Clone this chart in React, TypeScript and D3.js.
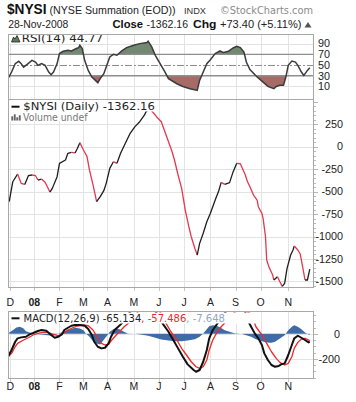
import React from 'react';
import * as d3 from 'd3';

const monthLabels = ['D', '08', 'F', 'M', 'A', 'M', 'J', 'J', 'A', 'S', 'O', 'N'];
const monthStartDay = [0, 20, 41, 61, 81, 103, 124, 145, 167, 188, 209, 232];
const yearLabel = '08';

const nysiDay = [-1,2,6,9,12,15,18,21,23,26,29,33,35,39,41,46,48,51,54,56,58,61,64,66,69,72,75,78,80,83,86,89,92,96,100,104,108,112,113,116,119,122,126,129,132,135,137,140,143,146,149,151,154,156,158,161,164,167,171,174,176,179,183,186,189,192,196,198,200,203,206,207,210,211,213,214,216,219,220,223,225,227,229,231,234,236,237,240,242,244,246,248,250];
const nysiValue = [-612,-390,-305,-408,-420,-323,-315,-323,-371,-360,-395,-505,-464,-334,-185,-148,-74,-63,-70,-18,45,-37,-111,-259,-426,-612,-556,-490,-408,-241,-167,-185,-74,38,149,223,278,353,383,430,383,334,278,167,56,-56,-148,-315,-464,-705,-891,-1002,-1131,-1206,-1076,-964,-835,-742,-594,-490,-397,-420,-400,-278,-185,-190,-310,-390,-445,-538,-594,-668,-742,-798,-1002,-1262,-1343,-1429,-1484,-1447,-1503,-1555,-1521,-1354,-1206,-1150,-1106,-1150,-1195,-1336,-1484,-1484,-1362];

const rsiDay = [-2,1,4,7,9,11,14,18,21,23,26,29,32,34,36,39,41,44,48,51,55,57,58,60,62,65,68,71,73,75,78,80,83,86,89,93,97,103,108,114,115,118,121,125,129,132,139,144,150,156,158,161,164,167,171,175,178,182,186,189,192,195,197,200,206,211,215,220,222,225,228,230,232,235,238,240,243,245,248,250];
const rsiValue = [24.5,37,52.6,57,52.6,46,51.3,58.8,55.6,49.4,52.6,49.4,37,32,37,52.6,71.4,75.7,77.6,76.3,80.8,82.6,87,80.8,58.8,40,27.5,21.3,17,24.5,33.9,46.2,65,70,68.2,76.3,82.6,87,90,92,94.5,83.8,68.2,52.6,37,24.5,15,10,5.7,2.5,21.3,37,52.6,60,71.4,76.3,73.3,75.7,81.9,85,82.6,74.4,55.6,41.4,27.5,18,10,5.7,10,12,12,27.5,49.4,57.5,55.6,49.4,37,30.7,40,44.77];

const macdDay = [-2,1,4,6,9,13,16,19,23,26,30,34,37,40,43,45,48,51,54,58,62,65,68,70,73,76,79,82,84,87,90,93,95,98,103,108,113,118,123,127,132,136,140,144,148,153,155,158,161,164,166,169,172,175,178,183,188,193,196,198,201,204,207,210,212,215,218,221,224,226,229,232,235,237,240,243,246,249,250];
const macdValue = [-184,-130,-64,-37,-29,-24,-5,6,22,30,24,-10,-32,-24,-5,30,48,64,70,70,64,38,-10,-64,-104,-117,-112,-77,-24,30,56,83,110,150,210,250,260,230,150,83,16,-50,-117,-184,-245,-290,-304,-290,-224,-130,-37,30,70,110,150,220,240,210,176,110,56,3,-37,-90,-157,-210,-250,-264,-258,-245,-237,-170,-90,-37,-16,-32,-50,-69,-65];

const signalDay = [-2,1,4,6,11,15,19,23,27,31,36,40,44,48,52,56,61,65,69,73,76,79,82,84,87,91,95,100,102,107,112,117,122,126,130,134,139,143,147,151,155,158,161,164,166,169,172,176,180,185,187,192,200,203,205,210,214,218,222,225,229,232,235,237,240,243,246,249,250];
const signalValue = [-184,-157,-104,-77,-50,-32,-10,3,11,11,-5,-16,3,30,48,62,70,64,30,-37,-77,-90,-85,-58,-24,16,56,96,123,180,220,230,200,163,83,16,-50,-117,-170,-224,-264,-277,-264,-210,-130,-50,3,56,96,136,171,210,163,110,56,-10,-77,-144,-197,-229,-250,-237,-184,-117,-69,-42,-37,-50,-57];

const histDay = [-1,2,5,8,11,13,16,20,26,31,36,38,41,45,50,54,58,61,63,66,69,72,75,77,80,83,86,88,91,94,98,104,109,115,121,126,132,137,143,148,154,158,161,164,166,169,172,175,179,183,187,193,197,201,205,210,214,218,221,225,229,232,235,237,240,243,246,249,250];
const histValue = [10,29,51,56,43,21,11,0,-5,-11,-16,-5,5,21,37,48,43,29,3,-24,-59,-77,-85,-59,-24,16,37,43,37,21,3,0,-5,-16,-32,-45,-53,-59,-59,-53,-43,-24,3,37,61,69,64,53,29,16,5,0,-11,-24,-43,-59,-69,-72,-64,-37,-11,29,56,69,56,37,11,-5,-8];

const nysiTicks = [250, 0, -250, -500, -750, -1000, -1250, -1500];
const rsiTicks = [90, 70, 50, 30, 10];
const macdTicks = [0, -200];

const FONT = "'Liberation Sans', Arial, sans-serif";
const VFONT = "'DejaVu Sans', Verdana, sans-serif";
const GRID = '#e3e3e3';
const BORDER = '#a8a8a8';
const RED = '#e3384f';

type P = { d: number; v: number };
const zip = (ds: number[], vs: number[]): P[] => ds.map((d, i) => ({ d, v: vs[i] }));

export default function App() {
  const PL = 8, PR = 314;
  const x = d3.scaleLinear().domain([-2, 253.5]).range([PL, PR]);
  const rT = 34, rB = 99, nT = 99, nB = 287, mT = 311, mB = 378;
  const yR = d3.scaleLinear().domain([-13.5, 108]).range([rB, rT]);
  const yN = d3.scaleLinear().domain([-1562, 531]).range([nB, nT]);
  const yM = d3.scaleLinear().domain([-354, 182]).range([mB, mT]);

  const rsi = zip(rsiDay, rsiValue);
  const nysi = zip(nysiDay, nysiValue);
  const macd = zip(macdDay, macdValue);
  const sig = zip(signalDay, signalValue);
  const hist = zip(histDay, histValue);

  const rsiLine = d3.line<P>().x(p => x(p.d)).y(p => yR(p.v))(rsi) || '';
  const rsiHigh = d3.area<P>().x(p => x(p.d)).y0(yR(70)).y1(p => yR(p.v))(rsi) || '';
  const rsiLow = d3.area<P>().x(p => x(p.d)).y0(yR(30)).y1(p => yR(p.v))(rsi) || '';

  const runs: { pts: P[]; down: boolean }[] = [];
  for (let i = 0; i < nysi.length - 1; i++) {
    const down = nysi[i + 1].v < nysi[i].v;
    const last = runs[runs.length - 1];
    if (last && last.down === down) last.pts.push(nysi[i + 1]);
    else runs.push({ pts: [nysi[i], nysi[i + 1]], down });
  }
  const nLine = d3.line<P>().x(p => x(p.d)).y(p => yN(p.v));

  const mLine = d3.line<P>().x(p => x(p.d)).y(p => yM(p.v));
  const hArea = d3.area<P>().x(p => x(p.d)).y0(yM(0)).y1(p => yM(p.v))(hist) || '';

  const gx = monthStartDay.map(d => Math.round(x(d)) + 0.5);
  const px = (v: number) => Math.round(v) + 0.5;

  const mainMinor = d3.range(-1550, 531, 50);
  const macdMinor = d3.range(-350, 182, 50);

  const vGrid = (t: number, b: number) =>
    gx.map((g, i) => <line key={i} x1={g} x2={g} y1={t} y2={b} stroke={GRID} />);

  const xLabels = (yb: number) =>
    monthLabels.map((m, i) => (
      <text key={i} x={x(monthStartDay[i])} y={yb} textAnchor="middle" fontFamily={FONT}
        fontSize={10.5} fontWeight={m === yearLabel ? 'bold' : 'normal'} fill="#222">{m}</text>
    ));
  const xTicks = (yb: number) =>
    gx.map((g, i) => <line key={i} x1={g} x2={g} y1={yb} y2={yb + 3} stroke="#c8c8c8" />);

  return (
    <svg width={356} height={402} style={{ position: 'absolute', left: 0, top: 0, background: '#fff' }}>
      <defs>
        <clipPath id="cHigh"><rect x={PL} y={rT} width={PR - PL} height={yR(70) - rT} /></clipPath>
        <clipPath id="cLow"><rect x={PL} y={yR(30)} width={PR - PL} height={rB - yR(30)} /></clipPath>
        <clipPath id="cR"><rect x={PL} y={rT} width={PR - PL} height={rB - rT} /></clipPath>
        <clipPath id="cN"><rect x={PL} y={nT} width={PR - PL} height={nB - nT} /></clipPath>
        <clipPath id="cM"><rect x={PL} y={mT} width={PR - PL} height={mB - mT} /></clipPath>
      </defs>
      <rect x={0} y={0} width={356} height={402} fill="#fff" />

      {/* Header */}
      <text x={7} y={14.3} fontFamily={FONT} fontSize={14.5} fontWeight="bold" fill="#111" textLength={39.5} lengthAdjust="spacingAndGlyphs">$NYSI</text>
      <text x={49.5} y={14.3} fontFamily={FONT} fontSize={11} fill="#222" textLength={126} lengthAdjust="spacingAndGlyphs">(NYSE Summation (EOD))</text>
      <text x={184} y={14.3} fontFamily={FONT} fontSize={9} fill="#333" textLength={22} lengthAdjust="spacingAndGlyphs">INDX</text>
      <text x={220} y={14.3} fontFamily={VFONT} fontSize={10} fill="#8a8a8a" textLength={93} lengthAdjust="spacingAndGlyphs">©StockCharts.com</text>
      <text x={8.3} y={28} fontFamily={FONT} fontSize={10.4} fill="#222" textLength={60} lengthAdjust="spacingAndGlyphs">28-Nov-2008</text>
      <text x={112.5} y={28} fontFamily={FONT} fontSize={11.5} fontWeight="bold" fill="#111" textLength={30.5} lengthAdjust="spacingAndGlyphs">Close</text>
      <text x={146.5} y={28} fontFamily={FONT} fontSize={10.5} fill="#222" textLength={41.5} lengthAdjust="spacingAndGlyphs">-1362.16</text>
      <text x={193} y={28} fontFamily={FONT} fontSize={11.5} fontWeight="bold" fill="#111" textLength={23.5} lengthAdjust="spacingAndGlyphs">Chg</text>
      <text x={220} y={28} fontFamily={FONT} fontSize={10.3} fill="#222" textLength={81.5} lengthAdjust="spacingAndGlyphs">+73.40 (+5.11%)</text>
      <path d="M304.5,27.5 L308,22 L311.5,27.5 Z" fill="#555" />

      {/* RSI panel */}
      {vGrid(rT, rB)}
      {[90, 10].map(t => <line key={t} x1={PL} x2={PR} y1={px(yR(t))} y2={px(yR(t))} stroke={GRID} />)}
      <path d={rsiHigh} fill="#728870" clipPath="url(#cHigh)" />
      <path d={rsiLow} fill="#a66a67" clipPath="url(#cLow)" />
      <line x1={PL} x2={PR} y1={yR(70)} y2={yR(70)} stroke="#8e8e8e" strokeWidth={1.4} />
      <line x1={PL} x2={PR} y1={yR(30)} y2={yR(30)} stroke="#8e8e8e" strokeWidth={1.4} />
      <line x1={PL} x2={PR} y1={px(yR(50))} y2={px(yR(50))} stroke="#8e8e8e" strokeWidth={1} strokeDasharray="7,2,2,2" />
      <path d={rsiLine} fill="none" stroke="#3b3b3b" strokeWidth={1.5} clipPath="url(#cR)" />
      <rect x={9} y={35} width={97} height={8.5} fill="#fff" />
      <path d="M11.5,42 L13.5,37 L15,39 L17,35.5 L20,42 Z" fill="#5f7a5c" stroke="#222" strokeWidth={0.8} />
      <text x={21.7} y={42.3} fontFamily={VFONT} fontSize={10} fill="#222" textLength={81.5} lengthAdjust="spacingAndGlyphs">RSI(14) 44.77</text>
      <rect x={PL + 0.5} y={rT + 0.5} width={PR - PL - 1} height={rB - rT} fill="none" stroke={BORDER} />
      {rsiTicks.map(t => (
        <text key={t} x={330} y={yR(t) + 3.8} textAnchor="end" fontFamily={FONT} fontSize={10.8} fill="#222">{t}</text>
      ))}

      {/* Main panel */}
      {vGrid(nT, nB)}
      {nysiTicks.map(t => <line key={t} x1={PL} x2={PR} y1={px(yN(t))} y2={px(yN(t))} stroke={GRID} />)}
      <g clipPath="url(#cN)">
        {runs.map((r, i) => (
          <path key={i} d={nLine(r.pts) || ''} fill="none" stroke={r.down ? RED : '#1e1e1e'} strokeWidth={1.3} strokeLinejoin="round" />
        ))}
      </g>
      <rect x={9} y={100.5} width={147} height={11} fill="#fff" />
      <rect x={9} y={111.5} width={79} height={10} fill="#fff" />
      <line x1={11.5} x2={19.5} y1={106.7} y2={106.7} stroke="#111" strokeWidth={2} />
      <text x={23.3} y={110.3} fontFamily={VFONT} fontSize={10} fill="#222" textLength={131.5} lengthAdjust="spacingAndGlyphs">$NYSI (Daily) -1362.16</text>
      <path d="M11.5,120.5 v-4 h1.5 v4 M14,120.5 v-6 h1.5 v6 M16.5,120.5 v-3 h1.5 v3 M19,120.5 v-5 h1.5 v5" fill="#666" stroke="#666" strokeWidth={0.4} />
      <text x={23} y={120.5} fontFamily={VFONT} fontSize={10} fill="#777" textLength={64.5} lengthAdjust="spacingAndGlyphs">Volume undef</text>
      <rect x={PL + 0.5} y={nT + 0.5} width={PR - PL - 1} height={nB - nT} fill="none" stroke={BORDER} />
      {mainMinor.map(t => (
        <line key={t} x1={PR} x2={PR + (t % 250 === 0 ? 4 : 2)} y1={px(yN(t))} y2={px(yN(t))} stroke="#b8b8b8" />
      ))}
      {nysiTicks.map(t => (
        <text key={t} x={343} y={yN(t) + 3.8} textAnchor="end" fontFamily={FONT} fontSize={10.8} fill="#222">{t}</text>
      ))}
      {xTicks(nB + 1)}
      {xLabels(306)}

      {/* MACD panel */}
      {vGrid(mT, mB)}
      {macdTicks.map(t => <line key={t} x1={PL} x2={PR} y1={px(yM(t))} y2={px(yM(t))} stroke={GRID} />)}
      <g clipPath="url(#cM)">
        <path d={hArea} fill="#3d6ca6" />
        <path d={mLine(sig) || ''} fill="none" stroke="#f02828" strokeWidth={1.3} strokeLinejoin="round" />
        <path d={mLine(macd) || ''} fill="none" stroke="#111" strokeWidth={2} strokeLinejoin="round" />
      </g>
      <rect x={9} y={312.5} width={252} height={11} fill="#fff" />
      <line x1={11.5} x2={19.5} y1={318.3} y2={318.3} stroke="#111" strokeWidth={2} />
      <text x={23.6} y={322} fontFamily={VFONT} fontSize={10} fill="#222">
        <tspan>MACD(12,26,9) -65.134</tspan>
        <tspan fill="#f02828">, -57.486</tspan>
        <tspan fill="#8ea6c6">, -7.648</tspan>
      </text>
      <rect x={PL + 0.5} y={mT + 0.5} width={PR - PL - 1} height={mB - mT} fill="none" stroke={BORDER} />
      {macdMinor.map(t => (
        <line key={t} x1={PR} x2={PR + (t % 200 === 0 ? 4 : 2)} y1={px(yM(t))} y2={px(yM(t))} stroke="#b8b8b8" />
      ))}
      {macdTicks.map(t => (
        <text key={t} x={340} y={yM(t) + 3.8} textAnchor="end" fontFamily={FONT} fontSize={10.8} fill="#222">{t}</text>
      ))}
      {xTicks(mB + 1)}
      {xLabels(390)}
    </svg>
  );
}
